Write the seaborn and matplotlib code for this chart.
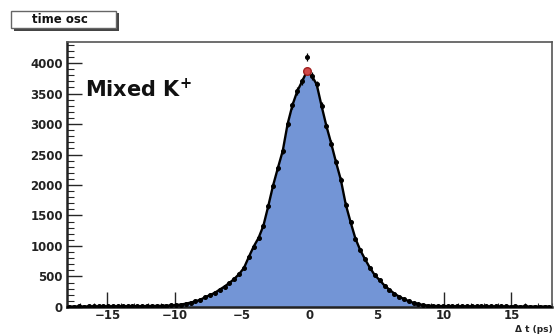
import numpy as np
import pandas as pd
import matplotlib
matplotlib.use("Agg")
import matplotlib.pyplot as plt
import seaborn as sns
from matplotlib.patches import Rectangle
from matplotlib.ticker import MultipleLocator

# ---- data ----
bin_lo, bin_hi, n_bins = -18.0, 18.0, 100
hist_counts = [
    7, 6, 8, 7, 8, 9, 8, 10, 9, 10,
    11, 10, 12, 11, 13, 12, 14, 15, 16, 18,
    20, 24, 30, 40, 53, 72, 92, 118, 160, 195,
    232, 285, 335, 395, 460, 540, 640, 820, 990, 1130,
    1330, 1650, 1990, 2280, 2560, 3000, 3310, 3540, 3700, 3870,
    3790, 3650, 3300, 2970, 2680, 2370, 2080, 1680, 1390, 1120,
    930, 780, 640, 520, 440, 350, 285, 220, 170, 130,
    95, 66, 45, 32, 22, 17, 14, 13, 12, 11,
    12, 10, 11, 9, 10, 9, 10, 8, 9, 8,
    9, 7, 8, 7, 8, 6, 7, 6, 7, 6,
]
peak_bin = 49
peak_data = 4100
peak_fit = 3870
yticks = [0, 500, 1000, 1500, 2000, 2500, 3000, 3500, 4000]
xticks = [-15, -10, -5, 0, 5, 10, 15]
title_text = "time osc"
label_text = "Mixed K$^{\\mathbf{+}}$"
xlabel_text = "\u0394 t (ps)"

edges = np.linspace(bin_lo, bin_hi, n_bins + 1)
centers = 0.5 * (edges[:-1] + edges[1:])
data_counts = list(hist_counts)
data_counts[peak_bin] = peak_data
df = pd.DataFrame({"dt": centers, "n": np.array(hist_counts, dtype=float)})

sns.set_style("white")
plt.rcParams["font.family"] = ["DejaVu Sans"]

fig = plt.figure(figsize=(5.54, 3.34), dpi=100)
ax = fig.add_axes([0.121, 0.081, 0.875, 0.793])

sns.histplot(data=df, x="dt", weights="n", bins=n_bins,
             binrange=(bin_lo, bin_hi), element="poly",
             fill=True, color="#7395d6", alpha=1.0, linewidth=0, ax=ax)
# black curve through the bin contents
sns.lineplot(x=centers, y=hist_counts, color="black", lw=1.7, ax=ax,
             zorder=4)
ax.errorbar(centers, data_counts, yerr=np.sqrt(data_counts), fmt="o",
            color="black", ms=2.6, elinewidth=0.9, capsize=0, zorder=5)
ax.scatter([centers[peak_bin]], [peak_fit], s=30, color="#d04848",
           edgecolor="#a02020", zorder=6)

ax.set_xlim(bin_lo, bin_hi)
ax.set_ylim(0, 4344)
ax.set_xticks(xticks)
ax.set_yticks(yticks)
ax.xaxis.set_minor_locator(MultipleLocator(1))
ax.yaxis.set_minor_locator(MultipleLocator(100))
ax.tick_params(axis="both", which="major", direction="in", length=11,
               width=1, labelsize=8.5, left=True, bottom=True)
ax.tick_params(axis="x", which="major", pad=1.5)
ax.tick_params(axis="y", which="major", pad=3)
ax.tick_params(axis="y", which="minor", direction="in", length=5,
               width=0.8, left=True)
ax.tick_params(axis="x", which="minor", direction="in", length=3,
               width=0.8, bottom=True)
for lab in ax.get_xticklabels() + ax.get_yticklabels():
    lab.set_fontweight("bold")
    lab.set_color("#222222")
ax.set_xlabel("")
ax.set_ylabel("")
for s in ax.spines.values():
    s.set_color("#555555")
    s.set_linewidth(1.2)
ax.spines["left"].set_linewidth(1.8)
ax.spines["left"].set_color("#222222")
ax.spines["bottom"].set_linewidth(1.8)
ax.spines["bottom"].set_color("#222222")

ax.text(0.037, 0.82, label_text, transform=ax.transAxes, fontsize=15,
        fontweight="bold", color="#111111", ha="left", va="center")
fig.text(0.998, 0.0, xlabel_text, ha="right", va="bottom", fontsize=6.5,
         fontweight="bold", color="#222222")

# title box with shadow
fig.patches.append(Rectangle((14 / 554, 1 - 31 / 334), 105 / 554, 18 / 334,
                             transform=fig.transFigure, facecolor="#444444",
                             edgecolor="none", zorder=1))
fig.patches.append(Rectangle((11 / 554, 1 - 28 / 334), 105 / 554, 17 / 334,
                             transform=fig.transFigure, facecolor="white",
                             edgecolor="#666666", linewidth=1.0, zorder=2))
fig.text(60 / 554, 1 - 19.5 / 334, title_text, ha="center", va="center",
         fontsize=8.5, fontweight="bold", color="#111111", zorder=3)

fig.savefig("out.png", dpi=100)
